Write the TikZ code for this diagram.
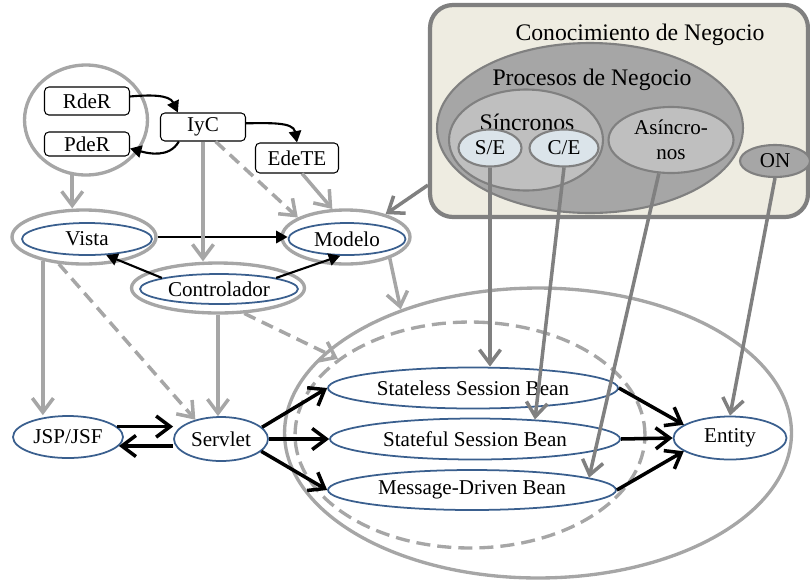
\documentclass[tikz,border=0pt]{standalone}
\usepackage{fontspec}
\setmainfont{Liberation Serif}
\usetikzlibrary{shapes.geometric,arrows.meta,calc}
\definecolor{lgray}{HTML}{A6A6A6}
\definecolor{dgray}{HTML}{808080}
\definecolor{mgray}{HTML}{BFBFBF}
\definecolor{beige}{HTML}{EEECE1}
\definecolor{sefill}{HTML}{DBE4EA}
\definecolor{blueline}{HTML}{3A5F8E}

\begin{document}
\begin{tikzpicture}
  [x=0.02cm, y=-0.02cm, font=\fontsize{12}{14.2}\selectfont,
  box/.style={draw, rounded corners=2.5pt, line width=0.6pt, minimum width=1.7cm, minimum height=0.56cm, inner sep=0pt},
  bean/.style={ellipse, draw=blueline, line width=1pt, fill=white, inner sep=0pt},
  ring/.style={ellipse, draw=lgray, line width=1.9pt, inner sep=0pt},
  part/.style={ellipse, draw=dgray, line width=1.2pt, inner sep=0pt},
  heading/.style={font=\fontsize{13.5}{15}\selectfont},
  flow/.style={lgray, line width=2pt, -{Straight Barb[length=8pt,width=12pt]}},
  weak/.style={flow, dash pattern=on 7pt off 4pt},
  know/.style={dgray, line width=2pt, -{Straight Barb[length=8pt,width=12pt]}},
  call/.style={black, line width=2pt, -{Straight Barb[length=8pt,width=12pt]}},
  link/.style={black, line width=1.2pt, -{Triangle[length=6.5pt,width=7pt]}}]

  \useasboundingbox (0,0) rectangle (810,582);

  % EJB container
  \node[ring, minimum width=10.14cm, minimum height=5.8cm] (ejb) at (538,433) {};
  \node[ring, dash pattern=on 8pt off 4pt, minimum width=7cm, minimum height=4.52cm] (session) at (470,435) {};

  % business knowledge
  \node[draw=dgray, fill=beige, line width=2.4pt, rounded corners=13pt, minimum width=7.56cm, minimum height=4.24cm] (kb) at (619,111) {};
  \node[heading] (kbtitle) at (640,35) {Conocimiento de Negocio};
  \node[part, fill=lgray, minimum width=6.12cm, minimum height=3.4cm] (proc) at (590,128) {};
  \node[heading] (proctitle) at (592,80) {Procesos de Negocio};
  \node[part, fill=mgray, minimum width=3.08cm, minimum height=2.02cm] (sinc) at (526,140) {};
  \node[heading] (sinctitle) at (527,122) {Síncronos};
  \node[part, fill=sefill, minimum width=1.26cm, minimum height=0.74cm] (se) at (490,148) {S/E};
  \node[part, fill=sefill, minimum width=1.38cm, minimum height=0.74cm] (ce) at (564,148) {C/E};
  \node[part, fill=mgray, minimum width=2.5cm, minimum height=1.32cm, align=center] (asinc) at (671,140) {Asíncro-\\nos};
  \node[part, fill=lgray, minimum width=1.4cm, minimum height=0.64cm] (negon) at (775,161) {ON};

  % MVC
  \node[ring, minimum width=2.46cm, minimum height=2.2cm] (group) at (86,120) {};
  \node[box] (rder) at (87,101) {RdeR};
  \node[box, minimum height=0.48cm] (pder) at (87,144) {PdeR};
  \node[box] (iyc) at (203,127) {IyC};
  \node[box, minimum width=1.66cm, minimum height=0.6cm] (edete) at (297,158) {EdeTE};

  \node[ring, minimum width=2.88cm, minimum height=1.08cm] (vistaring) at (84,237) {};
  \node[bean, minimum width=2.6cm, minimum height=0.64cm] (vista) at (87,239) {Vista};
  \node[ring, minimum width=2.56cm, minimum height=1.08cm] (modeloring) at (346,237) {};
  \node[bean, minimum width=2.34cm, minimum height=0.64cm] (modelo) at (347,239) {Modelo};
  \node[ring, minimum width=3.46cm, minimum height=1.0cm] (controlring) at (218,288) {};
  \node[bean, minimum width=3.16cm, minimum height=0.6cm] (control) at (219,289) {Controlador};

  % web tier and beans
  \node[bean, minimum width=2.2cm, minimum height=0.84cm] (jsp) at (68,437) {JSP/JSF};
  \node[bean, minimum width=1.88cm, minimum height=0.88cm] (servlet) at (221,439) {Servlet};
  \node[bean, minimum width=5.8cm, minimum height=0.82cm] (stateless) at (473,388) {Stateless Session Bean};
  \node[bean, minimum width=5.8cm, minimum height=0.82cm] (stateful) at (475,439) {Stateful Session Bean};
  \node[bean, minimum width=5.76cm, minimum height=0.8cm] (mdb) at (472,490) {Message-Driven Bean};
  \node[bean, minimum width=2.26cm, minimum height=0.86cm] (entity) at (730,438) {Entity};

  % black links between the MVC parts
  \draw[link] (rder.6) to[out=5, in=115] (iyc.150);
  \draw[link] (iyc.211) to[out=240, in=-15] (pder.-6);
  \draw[link] (iyc.5) to[out=0, in=100] (edete.north);
  \draw[link] (vistaring.east) -- (vistaring.east -| modelo.west);
  \draw[link] (control.169) -- (vista.-40);
  \draw[link] (control.11) -- (modelo.248);

  % grey dependencies
  \draw[flow] (group.256) -- (group.256 |- vistaring.north);
  \draw[flow] (iyc.south) -- (iyc.south |- controlring.north);
  \draw[weak] (iyc.-49) -- (modeloring.158);
  \draw[flow] (edete.-72) -- (modeloring.116);
  \draw[flow] (vistaring.210) -- (vistaring.210 |- jsp.north);
  \draw[weak] (vistaring.227) -- (servlet.143);
  \draw[flow] (controlring.south) -- (controlring.south |- servlet.north);
  \draw[weak] (controlring.-44) -- (session.150);
  \draw[flow] (modeloring.334) -- (ejb.138);
  \draw[know] ($(kb.south west)+(0,-34)$) -- (modeloring.30);

  % calls
  \draw[call] (jsp.12) -- (jsp.12 -| servlet.west);
  \draw[call] (jsp.-10 -| servlet.west) -- (jsp.-10);
  \draw[call] (servlet.16) -- (stateless.west);
  \draw[call] (servlet.east) -- (stateful.west);
  \draw[call] (servlet.-17) -- (mdb.west);
  \draw[call] (stateless.east) -- (entity.164);
  \draw[call] (stateful.east) -- (entity.west);
  \draw[call] (mdb.east) -- (entity.196);

  % knowledge to beans
  \draw[know] (se.south) -- (se.south |- stateless.north);
  \draw[know] (ce.south) -- (stateful.18);
  \draw[know] (asinc.250) -- (mdb.6);
  \draw[know] (negon.south) -- (entity.north);
\end{tikzpicture}
\end{document}
